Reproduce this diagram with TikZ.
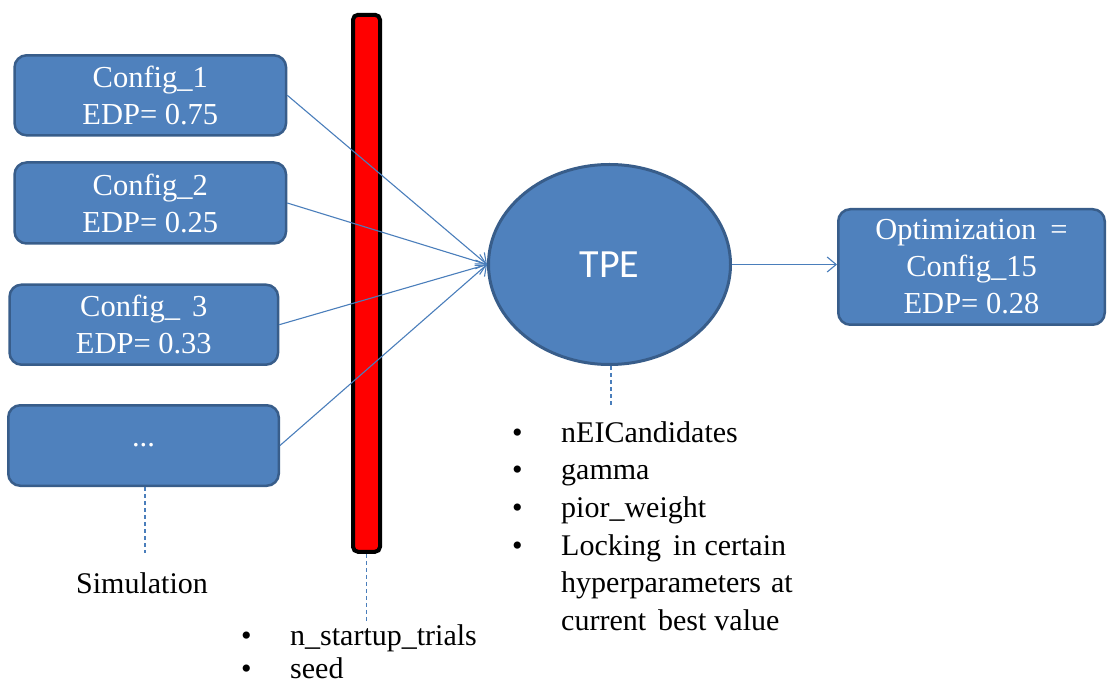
\documentclass[tikz,border=0pt]{standalone}
\usepackage{fontspec}
\setmainfont{Liberation Serif}
\newfontfamily\calibri{Carlito}
\usetikzlibrary{arrows.meta,shapes.geometric}
\definecolor{boxblue}{HTML}{4F81BD}
\definecolor{boxedge}{HTML}{385D8A}
\definecolor{lineblue}{HTML}{4A7EBB}
\tikzset{
  cfgbox/.style={draw=boxedge, fill=boxblue, line width=2.5pt, rounded corners=12pt,
    text=white, align=center, inner sep=0pt,
    font=\fontsize{30.5}{37}\selectfont},
  conn/.style={draw=lineblue, line width=1.1pt, -{Straight Barb[length=9pt,width=15pt,line width=1.1pt]}},
  dashconn/.style={draw=lineblue, line width=1.6pt, dash pattern=on 4pt off 3pt},
  bullist/.style={align=left, inner sep=0pt, text=black, font=\fontsize{30}{37.6}\selectfont},
}
\newcommand{\bul}[1]{\makebox[49pt][l]{\textbullet}#1}
\begin{document}
\begin{tikzpicture}[x=1pt,y=-1pt]
\useasboundingbox (0,0) rectangle (1108,684);
% red bar
\node[draw=black, fill=red, line width=4pt, rounded corners=5pt,
      minimum width=27pt, minimum height=537pt, inner sep=0pt] (bar) at (366.5,283.3) {};
% configuration boxes
\node[cfgbox, minimum width=271.5pt, minimum height=80pt] (c1) at (150.3,95.3) {Config\_1\\EDP= 0.75};
\node[cfgbox, minimum width=271.5pt, minimum height=81pt] (c2) at (150.3,203) {Config\_2\\EDP= 0.25};
\node[cfgbox, minimum width=268.5pt, minimum height=80pt] (c3) at (143.8,324.7) {Config\_\hspace{12pt}3\\EDP= 0.33};
\node[cfgbox, minimum width=270.5pt, minimum height=80.5pt] (c4) at (143.5,445.5) {...};
% TPE
\node[ellipse, draw=boxedge, fill=boxblue, line width=3pt, minimum width=242pt,
      minimum height=200pt, inner sep=0pt, text=white,
      font=\calibri\fontsize{40}{48}\selectfont] (tpe) at (609.5,264.5) {TPE};
% optimization
\node[cfgbox, minimum width=266.5pt, minimum height=115.5pt] (opt) at (971.5,267)
  {Optimization\hspace{14pt}=\\Config\_15\\EDP= 0.28};
% connectors
\draw[conn] (c1.east) -- (tpe.west);
\draw[conn] (c2.east) -- (tpe.west);
\draw[conn] (c3.east) -- (tpe.west);
\draw[conn] (c4.east) -- (tpe.west);
\draw[conn] (tpe.east) -- (tpe.east -| opt.west);
% dashed leaders
\coordinate (simtop) at (145,553);
\coordinate (barend) at (366.5,622);
\coordinate (tpeend) at (611,405);
\draw[dashconn] (c4.south -| simtop) -- (simtop);
\draw[dashconn] (bar.south) -- (barend);
\draw[dashconn] (tpe.south -| tpeend) -- (tpeend);
% labels
\node[anchor=base, inner sep=0pt, font=\fontsize{30}{36}\selectfont] (sim) at (142,593) {Simulation};
\node[bullist, anchor=north west, font=\fontsize{30}{33}\selectfont] (startlist) at (241,624.5)
  {\bul{n\_startup\_trials}\\\bul{seed}};
\node[bullist, anchor=north west] (tpelist) at (512,421.3)
  {\bul{nEICandidates}\\\bul{gamma}\\\bul{pior\_weight}\\
   \bul{\makebox[240pt][s]{Locking\hspace{12pt}in\hspace{8pt}certain}}\\
   \hspace{49pt}\makebox[240pt][s]{hyperparameters\hspace{10pt}at}\\
   \hspace{49pt}current\hspace{12pt}best\hspace{8pt}value};
\end{tikzpicture}
\end{document}
